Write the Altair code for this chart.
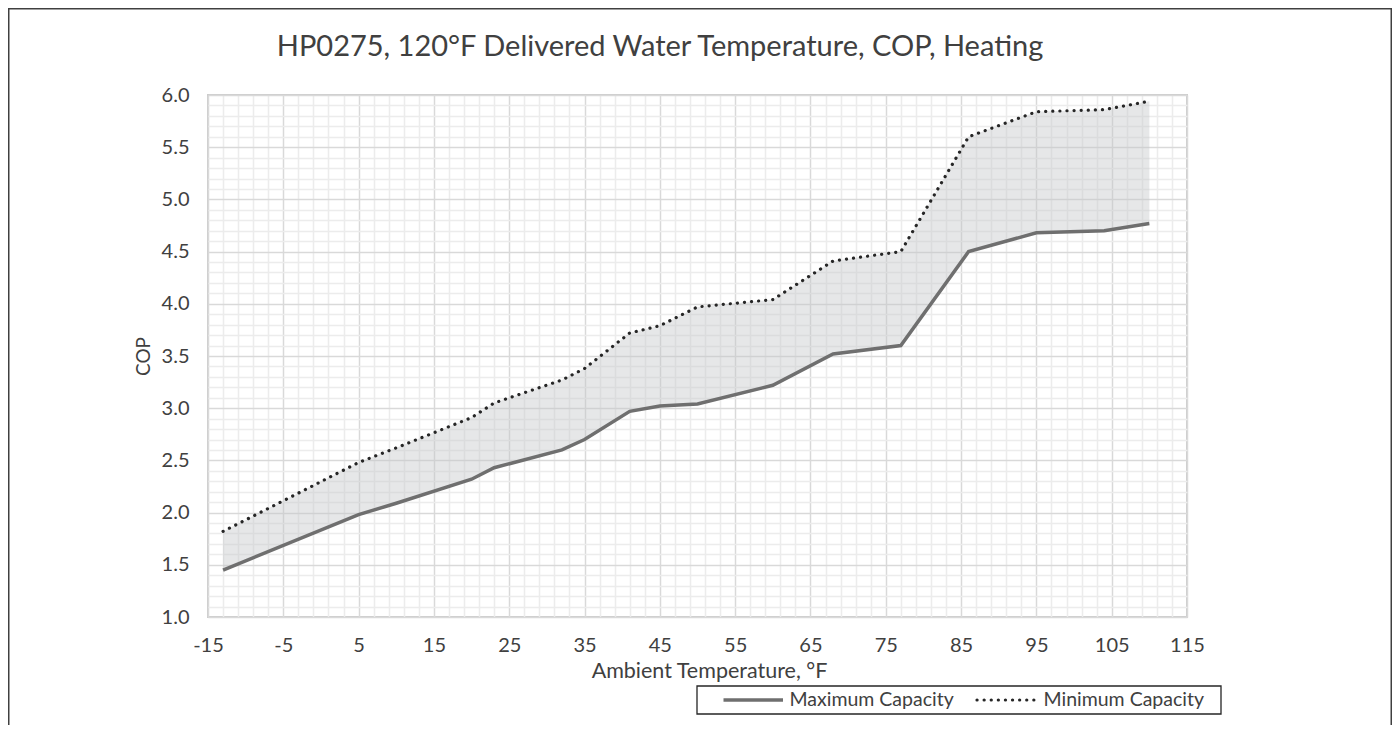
import altair as alt
import pandas as pd

# ---- data ----
temps = [-13, 5, 10, 20, 23, 32, 35, 41, 45, 50, 60, 68, 77, 86, 95, 104, 110]
cop_max = [1.45, 1.98, 2.09, 2.32, 2.43, 2.60, 2.70, 2.97, 3.02, 3.04, 3.22, 3.52, 3.60, 4.50, 4.68, 4.70, 4.77]
cop_min = [1.82, 2.48, 2.62, 2.91, 3.05, 3.27, 3.38, 3.72, 3.79, 3.97, 4.04, 4.41, 4.50, 5.60, 5.84, 5.86, 5.94]
series = ["Maximum Capacity", "Minimum Capacity"]

x_major = [-15, -5, 5, 15, 25, 35, 45, 55, 65, 75, 85, 95, 105, 115]
x_minor = [v for v in range(-15, 116, 2) if v not in x_major]
y_major = [1.0, 1.5, 2.0, 2.5, 3.0, 3.5, 4.0, 4.5, 5.0, 5.5, 6.0]
y_minor = [round(1 + 0.1 * i, 1) for i in range(51) if i % 5 != 0]

title_text = "HP0275, 120°F Delivered Water Temperature, COP, Heating"
x_title = "Ambient Temperature, °F"
y_title = "COP"

FONT = "Lato"
TXT = "#404040"

wide = pd.DataFrame({"temp": temps, "cmax": cop_max, "cmin": cop_min})

xs = alt.Scale(domain=[-15, 115], nice=False, zero=False)
ys = alt.Scale(domain=[1, 6], nice=False, zero=False)

minor_x_axis = alt.Axis(orient="top", values=x_minor, grid=True, gridColor="#ececec",
                        gridWidth=1.5, labels=False, ticks=False, domain=False, title="")
minor_y_axis = alt.Axis(orient="right", values=y_minor, grid=True, gridColor="#ececec",
                        gridWidth=1.5, labels=False, ticks=False, domain=False, title="")

major_x_axis = alt.Axis(orient="bottom", values=x_major, grid=True, gridColor="#d9d9d9",
                        gridWidth=1.5, ticks=False, tickSize=0, domain=False,
                        labelExpr="datum.value < 0 ? '-' + abs(datum.value) : '' + datum.value",
                        labelFont=FONT, labelFontSize=20, labelColor=TXT,
                        labelBaseline="middle", labelPadding=28, labelFlush=False,
                        title=x_title, titleFont=FONT, titleFontSize=21.5,
                        titleFontWeight="normal", titleColor=TXT,
                        titleX=501, titleY=54, titleAlign="center", titleBaseline="middle")
major_y_axis = alt.Axis(orient="left", values=y_major, format=".1f", grid=True,
                        gridColor="#d9d9d9", gridWidth=1.5, ticks=False, tickSize=0,
                        domain=False, labelFont=FONT, labelFontSize=20, labelColor=TXT,
                        labelPadding=19,
                        title=y_title, titleFont=FONT, titleFontSize=19,
                        titleFontWeight="normal", titleColor=TXT,
                        titleX=-65, titleY=261, titleAngle=270, titleAlign="center",
                        titleBaseline="middle")

area = alt.Chart(wide).mark_area(color="#c3c5c9", opacity=0.42).encode(
    x=alt.X("temp:Q", scale=xs, axis=minor_x_axis),
    y=alt.Y("cmin:Q", scale=ys, axis=minor_y_axis),
    y2="cmax:Q",
)

solid = alt.Chart(wide).mark_line(color="#6f6f6f", strokeWidth=3.5).encode(
    x=alt.X("temp:Q", scale=xs, axis=major_x_axis),
    y=alt.Y("cmax:Q", scale=ys, axis=major_y_axis),
)
dotted = alt.Chart(wide).mark_line(color="#262626", strokeWidth=3.2,
                                   strokeDash=[0.1, 7], strokeCap="round").encode(
    x=alt.X("temp:Q", scale=xs),
    y=alt.Y("cmin:Q", scale=ys),
)
lines = alt.layer(solid, dotted)

one = pd.DataFrame({"series": series[:1]})

# chart title (decoration)
title_mark = alt.Chart(one).mark_text(text=title_text, font=FONT, fontSize=29, color=TXT,
                                      align="center", baseline="middle").encode(
    x=alt.value(452), y=alt.value(-48))

# legend (decoration)
legend_box = alt.Chart(one).mark_rect(fill="white", stroke="#262626", strokeWidth=1.3).encode(
    x=alt.value(489), x2=alt.value(1013), y=alt.value(591), y2=alt.value(619))
leg_solid = alt.Chart(one).mark_rule(color="#6f6f6f", strokeWidth=3.5).encode(
    x=alt.value(515.5), x2=alt.value(575), y=alt.value(605))
leg_dot = alt.Chart(one).mark_rule(color="#262626", strokeWidth=3.2, strokeDash=[0.1, 7],
                                   strokeCap="round").encode(
    x=alt.value(769), x2=alt.value(828), y=alt.value(605))
leg_t1 = alt.Chart(one).mark_text(text=series[0], font=FONT, fontSize=19.5, color=TXT,
                                  align="left", baseline="middle").encode(
    x=alt.value(581.5), y=alt.value(605))
leg_t2 = alt.Chart(one).mark_text(text=series[1], font=FONT, fontSize=19.5, color=TXT,
                                  align="left", baseline="middle").encode(
    x=alt.value(835.5), y=alt.value(605))

# outer chart border
border = alt.Chart(one).mark_rect(fillOpacity=0, stroke="#404040", strokeWidth=1.5).encode(
    x=alt.value(-199.25), x2=alt.value(1183.25), y=alt.value(-86.25), y2=alt.value(660))

chart = alt.layer(
    area, lines, title_mark, legend_box, leg_solid, leg_dot, leg_t1, leg_t2, border
).resolve_axis(x="independent", y="independent").properties(
    width=979,
    height=522,
    autosize=alt.AutoSizeParams(type="none"),
    padding={"left": 200, "top": 87, "right": 205, "bottom": 108},
).configure_view(stroke="#cccccc", strokeWidth=2)

chart.save("out.html", embed_options={"renderer": "svg", "actions": False})
